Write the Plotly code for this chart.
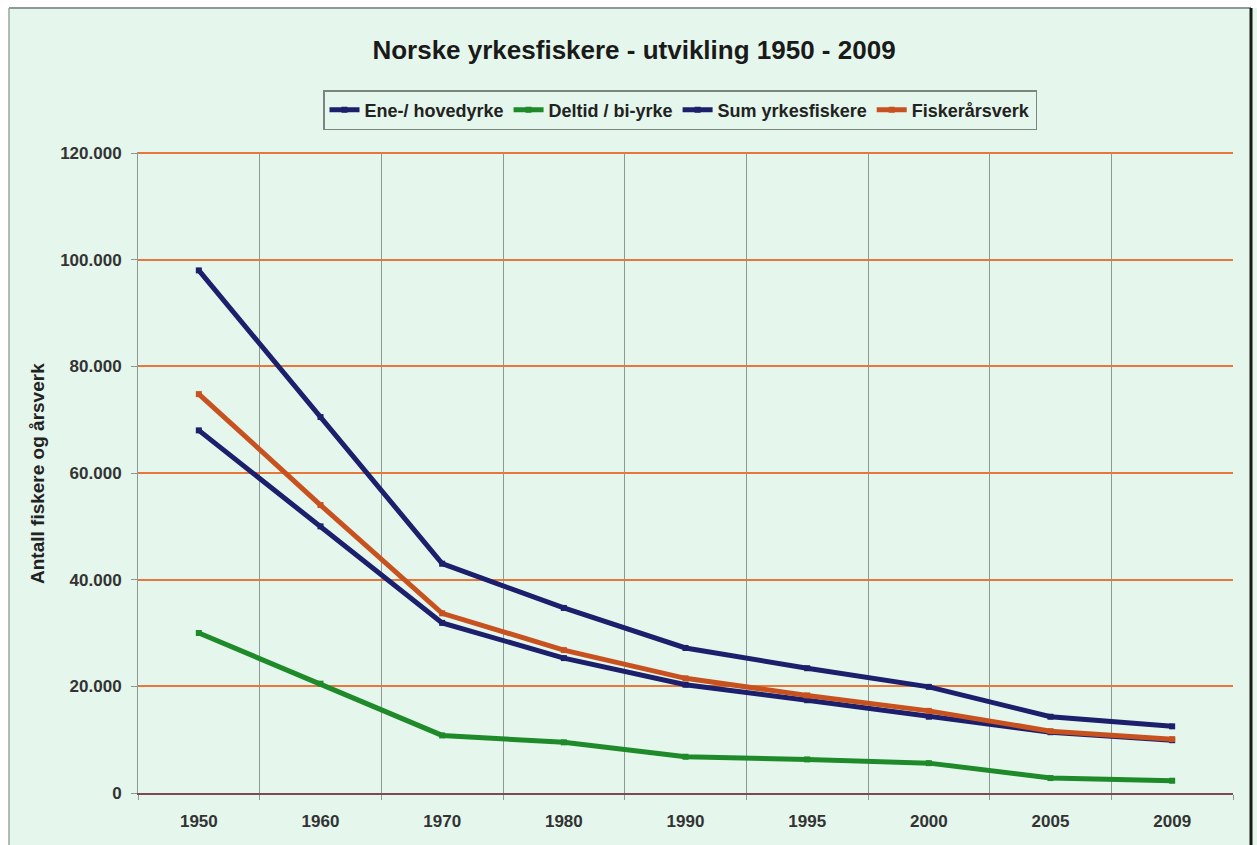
import plotly.graph_objects as go

# Years (categorical axis, uneven spacing in time)
years = ["1950", "1960", "1970", "1980", "1990", "1995", "2000", "2005", "2009"]

# Number of fishermen by category, and man-years
ene_hovedyrke = [68000, 50000, 31900, 25300, 20300, 17400, 14300, 11400, 9900]
deltid_biyrke = [30000, 20500, 10800, 9500, 6800, 6300, 5600, 2800, 2300]
sum_yrkesfiskere = [98000, 70500, 43000, 34700, 27200, 23400, 19900, 14300, 12500]
fiskerarsverk = [74800, 54000, 33700, 26800, 21500, 18300, 15400, 11600, 10100]

series_names = ["Ene-/ hovedyrke", "Deltid / bi-yrke", "Sum yrkesfiskere", "Fiskerårsverk"]
series_values = [ene_hovedyrke, deltid_biyrke, sum_yrkesfiskere, fiskerarsverk]
series_colors = ["#1c1f6b", "#1e8a2a", "#1c1f6b", "#c8521f"]

BG = "#e5f6ec"
FONT = "Liberation Sans"

fig = go.Figure()
for name, vals, col in zip(series_names, series_values, series_colors):
    fig.add_trace(go.Scatter(
        x=years, y=vals, name=name, mode="lines+markers",
        line=dict(color=col, width=5),
        marker=dict(color=col, size=6, symbol="square"),
    ))

# plot-area coordinates in pixels -> paper units
L, R, T, B = 138, 1233, 152, 793
W, H = R - L, B - T

def px_x(x):
    return (x - L) / W

def px_y(y):
    return (B - y) / H

shapes = [
    # white outer margin strips
    dict(type="rect", xref="paper", yref="paper", x0=px_x(-5), x1=px_x(1262),
         y0=px_y(8), y1=px_y(-5), fillcolor="white", line_width=0, layer="below"),
    dict(type="rect", xref="paper", yref="paper", x0=px_x(-5), x1=px_x(9),
         y0=px_y(850), y1=px_y(-5), fillcolor="white", line_width=0, layer="below"),
    # chart frame
    dict(type="line", xref="paper", yref="paper", x0=px_x(9), x1=px_x(1251),
         y0=px_y(8), y1=px_y(8), line=dict(color="#8f9893", width=2)),
    dict(type="line", xref="paper", yref="paper", x0=px_x(9), x1=px_x(9),
         y0=px_y(8), y1=px_y(850), line=dict(color="#9aa59f", width=1.5)),
    dict(type="line", xref="paper", yref="paper", x0=px_x(1251), x1=px_x(1251),
         y0=px_y(8), y1=px_y(850), line=dict(color="#1a1a1a", width=3)),
]

fig.update_layout(
    width=1257, height=845,
    margin=dict(l=L, r=1257 - R, t=T, b=845 - B),
    paper_bgcolor=BG, plot_bgcolor=BG,
    separators=",.",
    font=dict(family=FONT, color="#333333"),
    title=dict(
        text="Norske yrkesfiskere - utvikling 1950 - 2009",
        x=0.5 * (375 + 893) / 1257, xanchor="center",
        y=1 - 50 / 845, yanchor="middle",
        font=dict(family=FONT, size=26, color="#1a1a1a", weight="bold"),
    ),
    legend=dict(
        orientation="h",
        x=px_x(680), xanchor="center",
        y=px_y(90), yanchor="top",
        bgcolor=BG, bordercolor="#7d8580", borderwidth=1.5,
        font=dict(family=FONT, size=18, color="#222222", weight="bold"),
        itemwidth=30, tracegroupgap=0,
    ),
    shapes=shapes,
    annotations=[dict(
        text="Antall fiskere og årsverk", textangle=-90,
        xref="paper", yref="paper", x=px_x(38), y=px_y(474),
        xanchor="center", yanchor="middle", showarrow=False,
        font=dict(family=FONT, size=19, color="#222222", weight="bold"),
    )],
    showlegend=True,
)

fig.update_xaxes(
    type="category", tickson="boundaries",
    showgrid=True, gridcolor="#8d9892", gridwidth=1,
    ticks="outside", ticklen=5, tickcolor="#8d9892",
    showline=True, linecolor="#7a4a55", linewidth=1.5,
    ticklabelstandoff=12,
    tickfont=dict(family=FONT, size=17, color="#333333", weight="bold"),
    range=[-0.5, 8.5],
)
fig.update_yaxes(
    range=[0, 120200], dtick=20000, tickformat=",d",
    showgrid=True, gridcolor="#e8773a", gridwidth=2,
    zeroline=False,
    ticks="outside", ticklen=6, tickcolor="#8d9892",
    showline=True, linecolor="#8d9892", linewidth=1,
    ticklabelstandoff=6,
    tickfont=dict(family=FONT, size=17, color="#333333", weight="bold"),
)

fig.write_html("out.html")
